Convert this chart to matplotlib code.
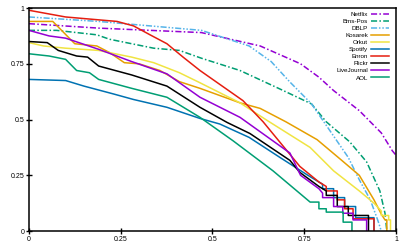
import matplotlib.pyplot as plt

plt.rcParams['font.family'] = ['Liberation Sans', 'DejaVu Sans']

# Netflix (dash-dot)
netflix_x = [0, 0.19, 0.47, 0.63, 0.74, 0.79, 0.83, 0.90, 0.96, 0.99, 1.0]
netflix_y = [0.93, 0.91, 0.89, 0.83, 0.75, 0.69, 0.63, 0.54, 0.44, 0.36, 0.34]

# Bms-Pos (dash-dot)
bms_x = [0, 0.075, 0.185, 0.22, 0.34, 0.41, 0.47, 0.575, 0.68, 0.77, 0.81, 0.874, 0.92, 0.956, 0.97, 0.975]
bms_y = [0.90, 0.90, 0.88, 0.86, 0.82, 0.81, 0.775, 0.72, 0.64, 0.57, 0.49, 0.40, 0.31, 0.18, 0.08, 0.0]

# DBLP (dash-dot-dot)
dblp_x = [0, 0.19, 0.47, 0.60, 0.66, 0.71, 0.77, 0.82, 0.87, 0.90, 0.93, 0.95, 0.96]
dblp_y = [0.96, 0.94, 0.90, 0.83, 0.76, 0.67, 0.57, 0.45, 0.33, 0.23, 0.14, 0.05, 0.0]

kosarek_x = [0, 0.065, 0.125, 0.185, 0.22, 0.26, 0.30, 0.357, 0.41, 0.466, 0.575, 0.63, 0.70,
             0.785, 0.85, 0.90, 0.94, 0.96, 0.97, 0.975, 0.975]
kosarek_y = [0.94, 0.94, 0.84, 0.83, 0.80, 0.755, 0.75, 0.72, 0.67, 0.64, 0.575, 0.55, 0.49,
             0.41, 0.32, 0.25, 0.14, 0.076, 0.05, 0.05, 0.0]

orkut_x = [0, 0.04, 0.10, 0.19, 0.28, 0.34, 0.41, 0.466, 0.575, 0.65, 0.766, 0.83, 0.90, 0.94,
           0.96, 0.96, 0.98, 0.98, 0.985, 0.985]
orkut_y = [0.845, 0.83, 0.82, 0.81, 0.78, 0.755, 0.71, 0.665, 0.575, 0.495, 0.375, 0.27, 0.18, 0.125,
           0.09, 0.07, 0.07, 0.05, 0.05, 0.0]

spotify_x = [0, 0.10, 0.15, 0.23, 0.285, 0.376, 0.466, 0.52, 0.60, 0.684, 0.76, 0.80, 0.80, 0.83,
             0.83, 0.86, 0.86, 0.89, 0.89, 0.94, 0.94]
spotify_y = [0.68, 0.675, 0.65, 0.615, 0.59, 0.555, 0.505, 0.48, 0.42, 0.33, 0.25, 0.21, 0.19, 0.19,
             0.15, 0.15, 0.11, 0.11, 0.06, 0.06, 0.0]

enron_x = [0, 0.10, 0.24, 0.285, 0.33, 0.376, 0.42, 0.466, 0.583, 0.638, 0.738, 0.79, 0.81, 0.81,
           0.84, 0.84, 0.86, 0.86, 0.883, 0.883, 0.94, 0.94]
enron_y = [0.99, 0.96, 0.94, 0.92, 0.88, 0.84, 0.78, 0.72, 0.585, 0.49, 0.29, 0.22, 0.20, 0.18,
           0.18, 0.14, 0.14, 0.10, 0.10, 0.055, 0.055, 0.0]

flickr_x = [0, 0.05, 0.08, 0.13, 0.16, 0.19, 0.28, 0.376, 0.466, 0.54, 0.602, 0.711, 0.738, 0.79,
            0.81, 0.81, 0.84, 0.84, 0.87, 0.87, 0.925, 0.925]
flickr_y = [0.85, 0.845, 0.81, 0.785, 0.78, 0.74, 0.70, 0.65, 0.555, 0.487, 0.4375, 0.317, 0.263, 0.20,
            0.18, 0.16, 0.16, 0.11, 0.11, 0.07, 0.07, 0.0]

livejournal_x = [0, 0.055, 0.10, 0.145, 0.19, 0.28, 0.376, 0.466, 0.575, 0.711, 0.74, 0.79, 0.80,
                 0.80, 0.83, 0.83, 0.855, 0.855, 0.883, 0.883, 0.92, 0.92]
livejournal_y = [0.90, 0.875, 0.865, 0.84, 0.815, 0.76, 0.705, 0.60, 0.51, 0.35, 0.25, 0.19, 0.17,
                 0.15, 0.15, 0.11, 0.11, 0.08, 0.08, 0.05, 0.05, 0.0]

aol_x = [0, 0.055, 0.10, 0.13, 0.165, 0.19, 0.28, 0.376, 0.466, 0.556, 0.665, 0.766, 0.79, 0.79,
         0.81, 0.81, 0.856, 0.856, 0.88, 0.88]
aol_y = [0.795, 0.785, 0.77, 0.72, 0.71, 0.68, 0.64, 0.60, 0.51, 0.405, 0.27, 0.13, 0.13, 0.10,
         0.10, 0.085, 0.085, 0.04, 0.04, 0.0]

fig = plt.figure(figsize=(4.07, 2.44), dpi=100)
ax = fig.add_axes([0.071, 0.053, 0.902, 0.914])

lw = 1.1
ax.plot(netflix_x, netflix_y, color='#9400D3', lw=lw, dashes=(4, 1.5, 1, 1.5), label='Netflix')
ax.plot(bms_x, bms_y, color='#009E73', lw=lw, dashes=(4, 1.5, 1, 1.5), label='Bms-Pos')
ax.plot(dblp_x, dblp_y, color='#56B4E9', lw=lw, dashes=(4, 1.2, 1, 1.2, 1, 1.2), label='DBLP')
ax.plot(kosarek_x, kosarek_y, color='#E69F00', lw=lw, label='Kosarek')
ax.plot(orkut_x, orkut_y, color='#F0E442', lw=lw, label='Orkut')
ax.plot(spotify_x, spotify_y, color='#0072B2', lw=lw, label='Spotify')
ax.plot(enron_x, enron_y, color='#E51E10', lw=lw, label='Enron')
ax.plot(flickr_x, flickr_y, color='black', lw=lw, label='Flickr')
ax.plot(livejournal_x, livejournal_y, color='#9400D3', lw=lw, label='LiveJournal')
ax.plot(aol_x, aol_y, color='#009E73', lw=lw, label='AOL')

ax.set_xlim(0, 1)
ax.set_ylim(0, 1)
ax.set_xticks([0, 0.25, 0.5, 0.75, 1])
ax.set_xticklabels(['0', '0.25', '0.5', '0.75', '1'])
ax.set_yticks([0, 0.25, 0.5, 0.75, 1])
ax.set_yticklabels(['0', '0.25', '0.5', '0.75', '1'])
ax.tick_params(direction='inout', length=4, width=1, labelsize=5, pad=1.2)
for s in ax.spines.values():
    s.set_linewidth(1.1)

ax.legend(loc='upper right', bbox_to_anchor=(0.981, 0.984), frameon=False, markerfirst=False,
          fontsize=4.5, handlelength=2.9, handletextpad=0.45, labelspacing=0.27,
          borderaxespad=0, borderpad=0)

fig.savefig('out.png', dpi=100)
